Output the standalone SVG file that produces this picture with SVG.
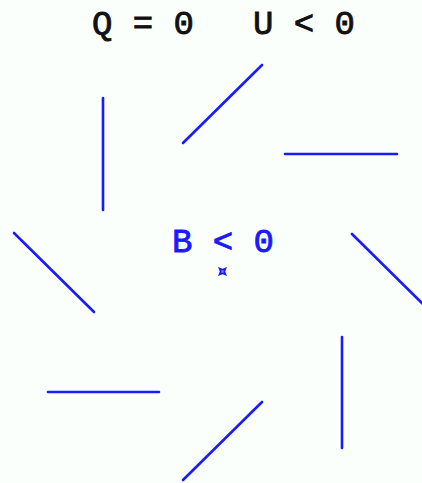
<svg xmlns="http://www.w3.org/2000/svg" width="422" height="483" viewBox="0 0 422 483">
<style>
.seg{stroke:#1a1aff;stroke-width:2.6;stroke-linecap:round;fill:none}
.t{font-family:"Liberation Mono","DejaVu Sans Mono",monospace;font-size:34px;text-anchor:middle;stroke-width:0.9}
</style>
<rect width="422" height="483" fill="#fbfffb"/>
<g id="title">
<text class="t" x="143" y="34" fill="#111" stroke="#111">Q = 0</text>
<text class="t" x="304" y="34" fill="#111" stroke="#111">U &lt; 0</text>
</g>
<g id="connectors">
<line class="seg" x1="103" y1="98" x2="103" y2="210"/>
<line class="seg" x1="183" y1="143" x2="262" y2="65"/>
<line class="seg" x1="285" y1="154" x2="397" y2="154"/>
<line class="seg" x1="14" y1="233" x2="94" y2="312"/>
<line class="seg" x1="352" y1="234" x2="432" y2="313"/>
<line class="seg" x1="48" y1="392" x2="159" y2="392"/>
<line class="seg" x1="183" y1="480" x2="262" y2="402"/>
<line class="seg" x1="342" y1="337" x2="342" y2="448"/>
</g>
<g id="center">
<text class="t" x="223" y="252" fill="#1a1aff" stroke="#1a1aff">B &lt; 0</text>
<path d="M218 267 L222.5 268.8 L227 267 L225.2 271.5 L227 276 L222.5 274.2 L218 276 L219.8 271.5 Z" fill="#1a1aff"/>
<rect x="221.3" y="270.3" width="2.4" height="2.4" fill="#7a7aff"/>
</g>
</svg>
